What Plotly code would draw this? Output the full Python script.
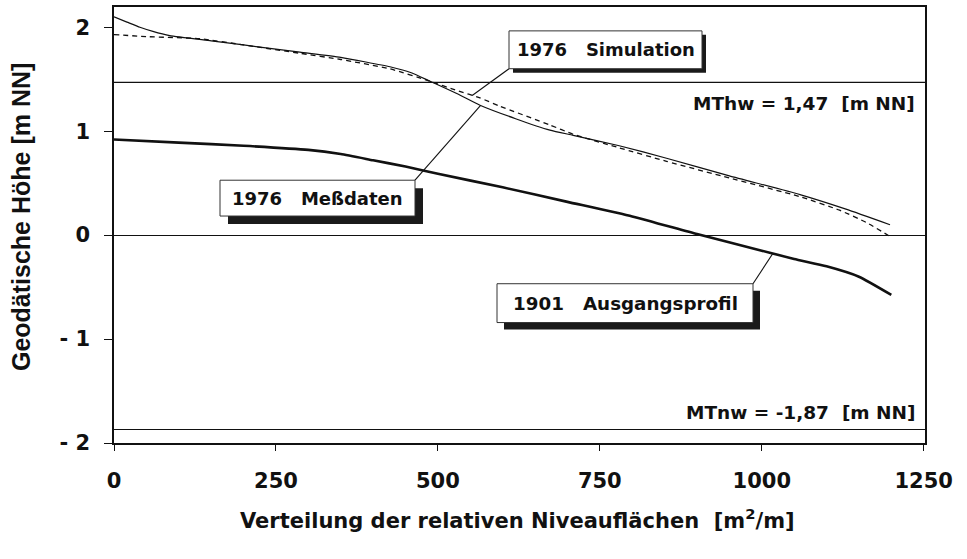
import numpy as np
import plotly.graph_objects as go

# ---------------- data ----------------
x_1901 = [0, 100, 200, 300, 350, 400, 450, 500, 600, 700, 800, 900, 1000, 1050, 1100, 1150, 1200]
y_1901 = [0.92, 0.89, 0.86, 0.82, 0.78, 0.72, 0.66, 0.59, 0.46, 0.32, 0.18, 0.01, -0.15, -0.23, -0.30, -0.40, -0.575]

x_mess = [0, 20, 40, 60, 86, 150, 200, 287, 350, 426, 460, 488, 530, 565, 620, 673, 709, 780, 853, 950, 1059, 1130, 1198]
y_mess = [2.10, 2.05, 2.00, 1.96, 1.92, 1.87, 1.83, 1.76, 1.71, 1.62, 1.56, 1.48, 1.36, 1.25, 1.12, 1.01, 0.96, 0.86, 0.74, 0.57, 0.39, 0.25, 0.10]

x_sim = [0, 50, 133, 200, 287, 350, 426, 488, 530, 565, 596, 673, 709, 780, 853, 950, 1059, 1120, 1162, 1200]
y_sim = [1.93, 1.91, 1.89, 1.83, 1.75, 1.69, 1.60, 1.48, 1.39, 1.32, 1.24, 1.06, 0.97, 0.84, 0.71, 0.55, 0.37, 0.24, 0.12, -0.02]

mthw = 1.47
mtnw = -1.87
level_labels = ["MThw = 1,47  [m NN]", "MTnw = -1,87  [m NN]"]

x_ticks = [0, 250, 500, 750, 1000, 1250]
y_ticks = [-2, -1, 0, 1, 2]
y_ticktext = ["- 2", "- 1", "0", "1", "2"]

series_labels = ["1901   Ausgangsprofil", "1976   Meßdaten", "1976   Simulation"]

# ---------------- layout geometry ----------------
W, H = 967, 559
ML, MR, MT, MB = 114, 42, 5, 116
PW, PH = W - ML - MR, H - MT - MB
XR = [0, 1252]
YR = [-2, 2.195]

FONT = "DejaVu Sans"


def nb(s):
    return s.replace(" ", "\u00a0")


def pxx(p):
    return (p - ML) / PW


def pxy(p):
    return (MT + PH - p) / PH


def dx(v):
    return (v - XR[0]) / (XR[1] - XR[0])


def dy(v):
    return (v - YR[0]) / (YR[1] - YR[0])


fig = go.Figure()
fig.add_trace(go.Scatter(x=x_1901, y=y_1901, mode="lines",
                         line=dict(color="#111", width=2.6, shape="spline", smoothing=0.5),
                         name="1901 Ausgangsprofil", showlegend=False))
fig.add_trace(go.Scatter(x=x_mess, y=y_mess, mode="lines",
                         line=dict(color="#111", width=1.2, shape="spline", smoothing=0.5),
                         name="1976 Meßdaten", showlegend=False))
fig.add_trace(go.Scatter(x=x_sim, y=y_sim, mode="lines",
                         line=dict(color="#111", width=1.3, dash="5px,4px", shape="spline", smoothing=0.5),
                         name="1976 Simulation", showlegend=False))

shapes = []
annotations = []

# reference water levels
for lv in (mthw, mtnw):
    shapes.append(dict(type="line", xref="paper", yref="y", x0=0, x1=1, y0=lv, y1=lv,
                       line=dict(color="#111", width=1.2), layer="below"))

annotations.append(dict(xref="paper", yref="y", x=pxx(917), y=mthw, yshift=-21,
                        text=nb(level_labels[0]), showarrow=False, xanchor="right", yanchor="middle",
                        font=dict(family=FONT, size=18.5, color="#111", weight="bold")))
annotations.append(dict(xref="paper", yref="y", x=pxx(917), y=mtnw, yshift=17,
                        text=nb(level_labels[1]), showarrow=False, xanchor="right", yanchor="middle",
                        font=dict(family=FONT, size=18.5, color="#111", weight="bold")))

# callout boxes: (label, box px l,t,r,b, shadow offset, corner, target series, target x, font size)
callouts = [
    (series_labels[0], (497, 283, 753, 322), 7, "tr", (x_1901, y_1901), 1017, 18.3),
    (series_labels[1], (220, 179, 415, 215), 8, "tr", (x_mess, y_mess), 566, 18),
    (series_labels[2], (509, 29, 702, 67), 4, "bl", (x_sim, y_sim), 553, 18),
]
for label, (l, t, r, b), off, corner, (sx, sy), tx, fs in callouts:
    cx = r if corner[1] == "r" else l
    cy = t if corner[0] == "t" else b
    ty = float(np.interp(tx, sx, sy))
    shapes.append(dict(type="line", xref="paper", yref="paper",
                       x0=pxx(cx), y0=pxy(cy), x1=dx(tx), y1=dy(ty),
                       line=dict(color="#111", width=1.1)))
    shapes.append(dict(type="rect", xref="paper", yref="paper",
                       x0=pxx(l + off), x1=pxx(r + off), y0=pxy(b + off), y1=pxy(t + off),
                       fillcolor="#1a1a1a", line=dict(width=0)))
    shapes.append(dict(type="rect", xref="paper", yref="paper",
                       x0=pxx(l), x1=pxx(r), y0=pxy(b), y1=pxy(t),
                       fillcolor="white", line=dict(color="#333", width=1)))
    annotations.append(dict(xref="paper", yref="paper", x=pxx((l + r) / 2), y=pxy((t + b) / 2),
                            text=nb(label), showarrow=False, xanchor="center", yanchor="middle",
                            font=dict(family=FONT, size=fs, color="#111", weight="bold")))

# axis titles
annotations.append(dict(xref="paper", yref="paper", x=pxx(517), y=pxy(519),
                        text=nb("Verteilung der relativen Niveauflächen  [m<sup>2</sup>/m]"),
                        showarrow=False, xanchor="center", yanchor="middle",
                        font=dict(family=FONT, size=21, color="#111", weight="bold")))
annotations.append(dict(xref="paper", yref="paper", x=pxx(21), y=pxy(216),
                        text=nb("Geodätische Höhe [m NN]"), textangle=-90,
                        showarrow=False, xanchor="center", yanchor="middle",
                        font=dict(family="Liberation Sans", size=25, color="#111", weight="bold")))

fig.update_layout(
    width=W, height=H,
    margin=dict(l=ML, r=MR, t=MT, b=MB),
    paper_bgcolor="white", plot_bgcolor="white",
    shapes=shapes, annotations=annotations,
    showlegend=False,
)
fig.update_xaxes(range=XR, tickvals=x_ticks, ticks="outside", ticklen=6, tickwidth=1.2,
                 tickcolor="#111", showline=True, linecolor="#111", linewidth=1.5, mirror=True,
                 showgrid=False, zeroline=False, ticklabelstandoff=12,
                 tickfont=dict(family=FONT, size=21, color="#111", weight="bold"))
fig.update_yaxes(range=YR, tickvals=y_ticks, ticktext=[nb(t) for t in y_ticktext], ticks="outside",
                 ticklen=8, tickwidth=1.2, tickcolor="#111", showline=True, linecolor="#111",
                 linewidth=1.5, mirror=True, showgrid=False, zeroline=True, zerolinecolor="#111",
                 zerolinewidth=1.2, ticklabelstandoff=10,
                 tickfont=dict(family=FONT, size=21, color="#111", weight="bold"))

fig.write_html("out.html", config={"displayModeBar": False},
               post_script="document.body.style.margin='0';document.body.style.overflow='hidden';")
